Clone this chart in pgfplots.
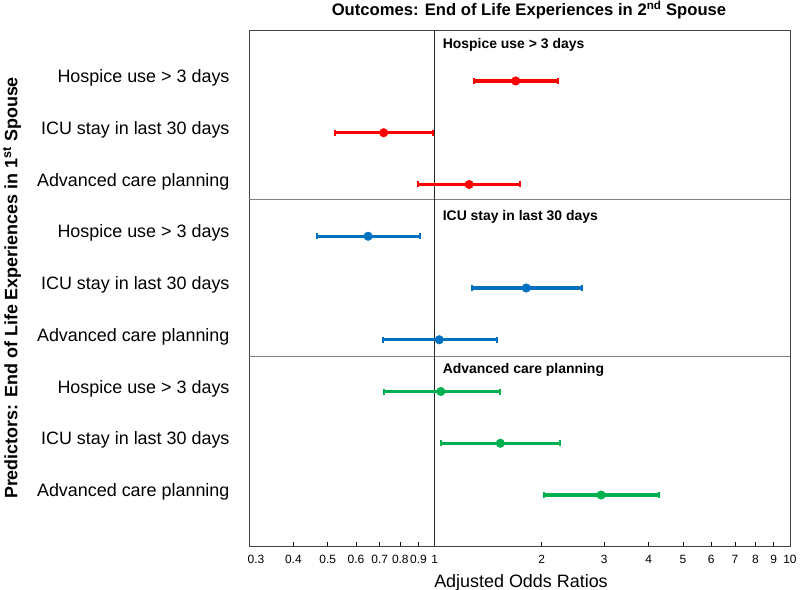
\documentclass[border=0pt]{standalone}
\usepackage{pgfplots}
\pgfplotsset{compat=1.18}
\usepackage{pgfplotstable}
\usepackage{fontspec}
\setmainfont{Liberation Sans}
\definecolor{cred}{RGB}{255,0,0}
\definecolor{cblue}{RGB}{0,112,192}
\definecolor{cgreen}{RGB}{0,176,80}

\pgfplotstableread{
y lo est hi
9 1.29 1.69 2.23
8 0.525 0.718 0.99
7 0.90 1.25 1.74
}\hospice
\pgfplotstableread{
y lo est hi
6 0.466 0.649 0.91
5 1.27 1.81 2.59
4 0.717 1.03 1.50
}\icu
\pgfplotstableread{
y lo est hi
3 0.72 1.04 1.53
2 1.04 1.53 2.25
1 2.03 2.94 4.29
}\acp

\pgfplotsset{
  forest/.style={
    only marks, mark=*, mark size=4.3bp, color=#1,
    error bars/.cd, x dir=both, x explicit,
    error bar style={line width=3.2bp, color=#1},
    error mark=|,
    error mark options={line width=2bp, mark size=3bp, color=#1}
  }
}

\begin{document}
\begin{tikzpicture}
\begin{axis}[
  at={(0,0)}, anchor=south west,
  scale only axis, width=541bp, height=516bp,
  xmode=log, xmin=0.3, xmax=10, ymin=0.015, ymax=9.985,
  xtick={0.3,0.4,0.5,0.6,0.7,0.8,0.9,1,2,3,4,5,6,7,8,9,10},
  xticklabels={\hspace*{14bp}0.3,0.4,0.5,0.6,0.7,0.8,0.9,1,2,3,4,5,6,7,8,9,10},
  minor xtick={},
  xtick pos=bottom, tick align=inside, major tick length=4bp,
  xtick style={black, line width=0.7bp},
  ytick={1,2,3,4,5,6,7,8,9},
  yticklabels={Advanced care planning,ICU stay in last 30 days,Hospice use > 3 days,Advanced care planning,ICU stay in last 30 days,Hospice use > 3 days,Advanced care planning,ICU stay in last 30 days,Hospice use > 3 days},
  ytick style={draw=none},
  x tick label style={font=\fontsize{12}{14}\selectfont, anchor=base, yshift=-17bp},
  y tick label style={font=\fontsize{18}{20}\selectfont, xshift=-16bp, yshift=3bp},
  axis line style={black!75, line width=0.9bp},
  /pgf/number format/assume math mode=true,
  clip=false,
]
\addplot[gray, line width=0.9bp] coordinates {(0.3,6.72) (10,6.72)};
\addplot[gray, line width=0.9bp] coordinates {(0.3,3.67) (10,3.67)};
\addplot[black!85, line width=0.9bp] coordinates {(1,0.015) (1,9.985)};

\addplot[forest=cred] table[x=est, y=y, x error plus expr=\thisrow{hi}-\thisrow{est}, x error minus expr=\thisrow{est}-\thisrow{lo}] {\hospice};
\addplot[forest=cblue] table[x=est, y=y, x error plus expr=\thisrow{hi}-\thisrow{est}, x error minus expr=\thisrow{est}-\thisrow{lo}] {\icu};
\addplot[forest=cgreen] table[x=est, y=y, x error plus expr=\thisrow{hi}-\thisrow{est}, x error minus expr=\thisrow{est}-\thisrow{lo}] {\acp};

\node[anchor=west, font=\bfseries\fontsize{14}{16}\selectfont] at (axis cs:1.03,9.70) {Hospice use > 3 days};
\node[anchor=west, font=\bfseries\fontsize{14}{16}\selectfont] at (axis cs:1.03,6.37) {ICU stay in last 30 days};
\node[anchor=west, font=\bfseries\fontsize{14}{16}\selectfont] at (axis cs:1.03,3.42) {Advanced care planning};
\end{axis}
\node[anchor=base, font=\bfseries\fontsize{16.7}{19}\selectfont] at (280bp,530bp) {Outcomes: End of Life Experiences in 2\textsuperscript{nd} Spouse};
\node[anchor=base, font=\fontsize{18}{20}\selectfont] at (272bp,-41bp) {Adjusted Odds Ratios};
\node[rotate=90, font=\bfseries\fontsize{18}{20}\selectfont] at (-237bp,258bp) {Predictors: End of Life Experiences in 1\textsuperscript{st} Spouse};
\pgfresetboundingbox
\path[use as bounding box] (-249bp,-44bp) rectangle (551bp,546bp);
\end{tikzpicture}
\end{document}
